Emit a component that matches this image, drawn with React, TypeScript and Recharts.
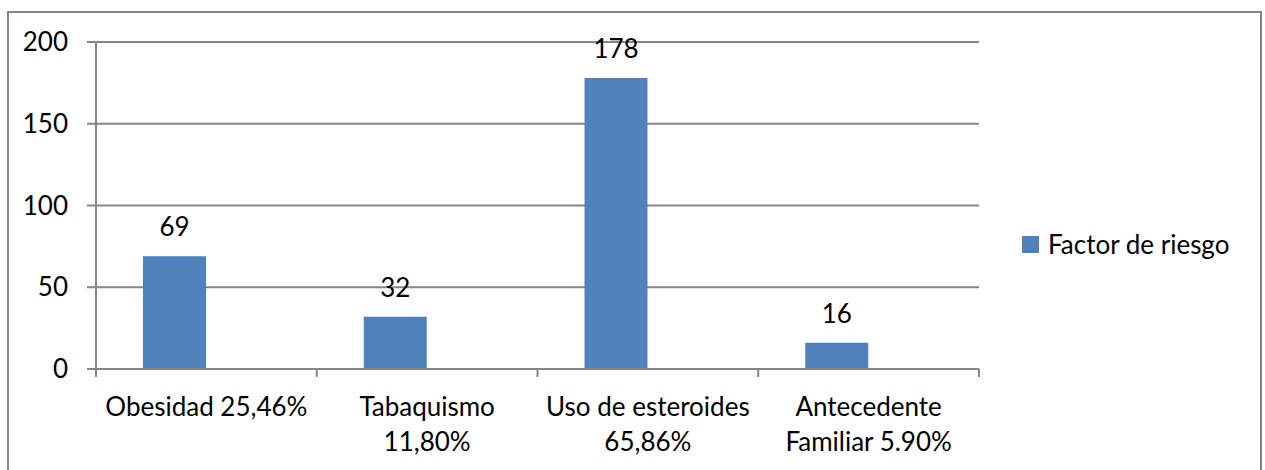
import React from "react";
import {
  Bar,
  BarChart,
  CartesianGrid,
  LabelList,
  XAxis,
  YAxis,
} from "recharts";

// Factores de riesgo y número de pacientes
const categorias = [
  "Obesidad 25,46%",
  "Tabaquismo\n11,80%",
  "Uso de esteroides\n65,86%",
  "Antecedente\nFamiliar 5.90%",
];
const pacientes = [69, 32, 178, 16];
const ticksY = [0, 50, 100, 150, 200];
const nombreSerie = "Factor de riesgo";

const data = categorias.map((categoria, i) => ({
  categoria,
  valor: pacientes[i],
}));

const AZUL = "#4F81BD";
const GRIS = "#868686";
const FUENTE = "Lato, 'Noto Sans', sans-serif";
const TAM = 26;

const ANCHO = 1265;
const ALTO = 470;
const MARGEN = { top: 42, right: 286, bottom: 41, left: 0 };
const ANCHO_EJE_Y = 96;
const ANCHO_PLOT = ANCHO - MARGEN.right - MARGEN.left - ANCHO_EJE_Y;

// Etiqueta del eje X en varias líneas, con marcas en los límites de cada categoría
function TickCategoria(props: any) {
  const { x, y, payload, index } = props;
  const lineas = String(payload.value).split("\n");
  const medio = ANCHO_PLOT / categorias.length / 2;
  return (
    <g>
      <line x1={x - medio} x2={x - medio} y1={y} y2={y + 8} stroke={GRIS} strokeWidth={2} />
      {index === categorias.length - 1 && (
        <line x1={x + medio} x2={x + medio} y1={y} y2={y + 8} stroke={GRIS} strokeWidth={2} />
      )}
      <text x={x} y={y} textAnchor="middle" fill="#000" fontSize={TAM} fontFamily={FUENTE}>
        {lineas.map((linea, i) => (
          <tspan key={i} x={x} dy={i === 0 ? 47 : 35}>
            {linea}
          </tspan>
        ))}
      </text>
    </g>
  );
}

function Leyenda() {
  return (
    <div
      style={{
        position: "absolute",
        left: 1022,
        top: 228,
        display: "flex",
        alignItems: "center",
        fontFamily: FUENTE,
        fontSize: TAM,
        color: "#000",
        whiteSpace: "nowrap",
      }}
    >
      <span style={{ display: "inline-block", width: 17, height: 17, background: AZUL, marginRight: 9 }} />
      <span>{nombreSerie}</span>
    </div>
  );
}

export default function App() {
  return (
    <div style={{ position: "absolute", left: 0, top: 0, width: ANCHO, height: ALTO, overflow: "hidden", background: "#fff" }}>
      <div
        style={{
          position: "absolute",
          left: 7,
          top: 11,
          width: 1255,
          height: ALTO,
          borderLeft: `2px solid ${GRIS}`,
          borderTop: `2px solid ${GRIS}`,
          borderRight: `2px solid ${GRIS}`,
          boxSizing: "border-box",
        }}
      />
      <BarChart
        width={ANCHO}
        height={ALTO}
        data={data}
        margin={MARGEN}
        barGap={0}
        style={{ position: "absolute", left: 0, top: 0 }}
      >
        <CartesianGrid horizontal vertical={false} stroke={GRIS} strokeWidth={2} />
        <XAxis
          dataKey="categoria"
          interval={0}
          tickLine={false}
          tickSize={0}
          tickMargin={0}
          height={60}
          axisLine={{ stroke: GRIS, strokeWidth: 2 }}
          tick={<TickCategoria />}
        />
        <YAxis
          width={ANCHO_EJE_Y}
          domain={[0, 200]}
          ticks={ticksY}
          tickSize={9}
          tickMargin={19}
          axisLine={{ stroke: GRIS, strokeWidth: 2 }}
          tickLine={{ stroke: GRIS, strokeWidth: 2 }}
          tick={{ fill: "#000", fontSize: TAM, fontFamily: FUENTE }}
        />
        <Bar dataKey="valor" name={nombreSerie} fill={AZUL} barSize={63} isAnimationActive={false}>
          <LabelList
            dataKey="valor"
            position="top"
            offset={20}
            fill="#000"
            fontSize={TAM}
            fontFamily={FUENTE}
          />
        </Bar>
        {/* serie vacía: deja el hueco a la derecha de cada barra */}
        <Bar dataKey="vacio" fill={AZUL} barSize={63} legendType="none" isAnimationActive={false} />
      </BarChart>
      <Leyenda />
    </div>
  );
}
